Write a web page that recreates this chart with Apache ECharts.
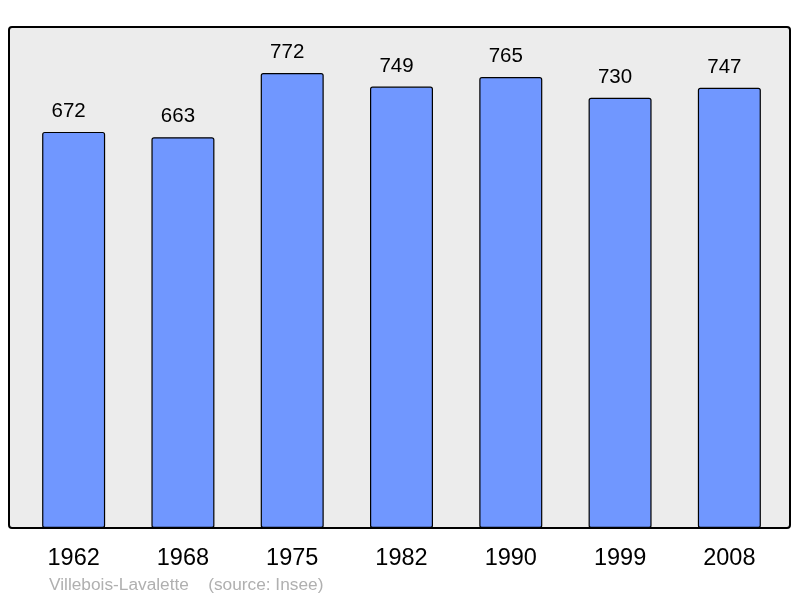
<!DOCTYPE html>
<html>
<head>
<meta charset="utf-8">
<script src="https://cdn.jsdelivr.net/npm/echarts@6/dist/echarts.min.js"></script>
<style>
html,body{margin:0;padding:0;background:#fff;}
#chart{width:800px;height:598px;}
</style>
</head>
<body>
<div id="chart"></div>
<script>
const years = ['1962','1968','1975','1982','1990','1999','2008'];
const population = [672, 663, 772, 749, 765, 730, 747];
const townName = 'Villebois-Lavalette';
const sourceText = '(source: Insee)';

const chart = echarts.init(document.getElementById('chart'));
chart.setOption({
  animation: false,
  backgroundColor: '#ffffff',
  textStyle: { fontFamily: 'Liberation Sans, Arial, sans-serif' },
  graphic: [
    {
      type: 'rect', z: -10,
      shape: { x: 9, y: 27, width: 781, height: 501, r: 3 },
      style: { fill: '#ececec', stroke: '#000000', lineWidth: 2 }
    },
    {
      type: 'text', left: 49, top: 577,
      style: { text: townName + '    ' + sourceText, fill: '#b0b0b0', font: '17.3px "Liberation Sans", Arial, sans-serif' }
    }
  ],
  grid: { left: 19, right: 16, top: 27, bottom: 70 },
  xAxis: {
    type: 'category',
    data: years,
    axisLine: { show: false },
    axisTick: { show: false },
    axisLabel: { color: '#000', fontSize: 23.5, margin: 19, fontFamily: 'Liberation Sans' }
  },
  yAxis: {
    type: 'value', min: 0, max: 850,
    show: false,
    splitLine: { show: false }
  },
  series: [{
    type: 'bar',
    data: population,
    barWidth: 63,
    itemStyle: { color: '#7097ff', borderColor: '#000', borderWidth: 1.2, borderRadius: 2 },
    label: { show: true, position: 'top', distance: 10, offset: [-5, 0], color: '#000', fontSize: 20.5, fontFamily: 'Liberation Sans' }
  }]
});
</script>
</body>
</html>
